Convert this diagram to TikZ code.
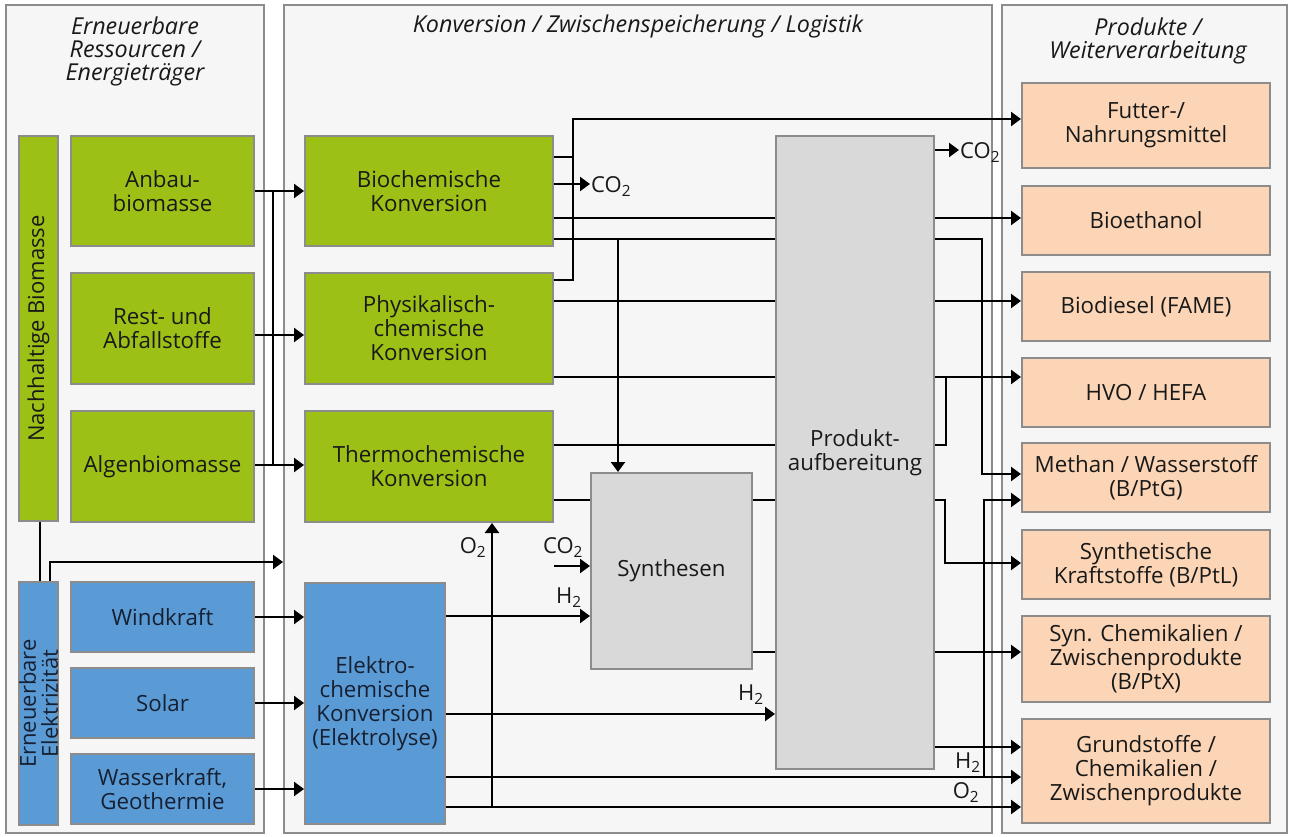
\documentclass[tikz,border=0pt]{standalone}
\usepackage{fontspec}
\setmainfont{Open Sans}
\usetikzlibrary{arrows.meta}
\definecolor{pbg}{RGB}{246,246,246}
\definecolor{pborder}{RGB}{140,140,140}
\definecolor{grn}{RGB}{156,192,22}
\definecolor{blu}{RGB}{91,155,213}
\definecolor{peach}{RGB}{251,213,181}
\definecolor{gry}{RGB}{217,217,217}
\definecolor{txt}{RGB}{25,25,25}
\definecolor{navy}{RGB}{22,32,50}
\begin{document}
\begin{tikzpicture}[x=1pt,y=-1pt,
  panel/.style={draw=pborder, fill=pbg, line width=2pt, inner sep=0pt},
  box/.style={draw=pborder, line width=2pt, inner sep=2pt, align=center, text=txt,
    font=\fontsize{22.3}{24}\selectfont},
  gbox/.style={box, fill=grn},
  bbox/.style={box, fill=blu, text=navy},
  ybox/.style={box, fill=gry},
  pbox/.style={box, fill=peach},
  title/.style={align=center, text=txt, font=\fontsize{23.3}{23}\selectfont\itshape},
  lbl/.style={text=txt, inner sep=1pt, font=\fontsize{22}{23}\selectfont},
  line/.style={draw=black, line width=2.3pt},
  arr/.style={line, -{Triangle[length=10pt,width=14pt]}},
]
\useasboundingbox (0,0) rectangle (1291,837);
% panels
\node[panel, minimum width=258pt, minimum height=828pt] (lp) at (135,419) {};
\node[panel, minimum width=708pt, minimum height=828pt] (mp) at (638,419) {};
\node[panel, minimum width=285pt, minimum height=828pt] (rp) at (1144.5,419) {};
% titles
\node[title] (t1) at (135,51) {Erneuerbare\\Ressourcen /\\Energieträger};
\node[title] (t2) at (638,26) {Konversion / Zwischenspeicherung / Logistik};
\node[title] (t3) at (1148,40.5) {Produkte /\\Weiterverarbeitung};
% left column
\node[gbox, minimum width=39pt, minimum height=385pt] (nb) at (38.5,328.5) {};
\node[text=txt, rotate=90, font=\fontsize{22}{24}\selectfont] (nbt) at (38.5,328.5) {Nachhaltige Biomasse};
\node[gbox, minimum width=183pt, minimum height=110pt] (anbau) at (162.5,191) {Anbau-\\biomasse};
\node[gbox, minimum width=183pt, minimum height=111pt] (rest) at (162.5,328.5) {Rest- und\\Abfallstoffe};
\node[gbox, minimum width=183pt, minimum height=111pt] (algen) at (162.5,466.5) {Algenbiomasse};
\node[bbox, minimum width=39pt, minimum height=243pt] (ee) at (38.5,703.5) {};
\node[text=navy, rotate=90, align=center, font=\fontsize{22}{22}\selectfont] (eet) at (38.5,703.5) {Erneuerbare\\Elektrizität};
\node[bbox, minimum width=183pt, minimum height=70pt] (wind) at (162.5,617) {Windkraft};
\node[bbox, minimum width=183pt, minimum height=70pt] (solar) at (162.5,703) {Solar};
\node[bbox, minimum width=183pt, minimum height=70pt] (wasser) at (162.5,789) {Wasserkraft,\\Geothermie};
% middle column
\node[gbox, minimum width=248pt, minimum height=110pt] (bio) at (429,191) {Biochemische\\Konversion};
\node[gbox, minimum width=248pt, minimum height=111pt] (phys) at (429,328.5) {Physikalisch-\\chemische\\Konversion};
\node[gbox, minimum width=248pt, minimum height=111pt] (thermo) at (429,466.5) {Thermochemische\\Konversion};
\node[bbox, minimum width=140pt, minimum height=241pt] (elektro) at (375,703.5) {Elektro-\\chemische\\Konversion\\(Elektrolyse)};
\node[ybox, minimum width=161pt, minimum height=196pt] (synth) at (671.5,571) {Synthesen};
\node[ybox, minimum width=158pt, minimum height=633pt] (prod) at (855,452.5) {Produkt-\\aufbereitung};
% right column
\node[pbox, minimum width=248pt, minimum height=85pt] (futter) at (1146,125.5) {Futter-/\\Nahrungsmittel};
\node[pbox, minimum width=248pt, minimum height=69pt] (ethanol) at (1146,220.5) {Bioethanol};
\node[pbox, minimum width=248pt, minimum height=69pt] (diesel) at (1146,306.5) {Biodiesel (FAME)};
\node[pbox, minimum width=248pt, minimum height=69pt] (hvo) at (1146,392.5) {HVO / HEFA};
\node[pbox, minimum width=248pt, minimum height=69pt] (methan) at (1146,477.5) {Methan / Wasserstoff\\(B/PtG)};
\node[pbox, minimum width=248pt, minimum height=69pt] (synkraft) at (1146,564.5) {Synthetische\\Kraftstoffe (B/PtL)};
\node[pbox, minimum width=248pt, minimum height=86pt] (synchem) at (1146,659) {Syn. Chemikalien /\\Zwischenprodukte\\(B/PtX)};
\node[pbox, minimum width=248pt, minimum height=104pt] (grund) at (1146,771) {Grundstoffe /\\Chemikalien /\\Zwischenprodukte};
% labels
\node[lbl, anchor=west] (co2a) at (590,187) {CO\textsubscript{2}};
\node[lbl, anchor=west] (co2b) at (959,153) {CO\textsubscript{2}};
\node[lbl] (co2c) at (563,548) {CO\textsubscript{2}};
\node[lbl] (h2a) at (569,598) {H\textsubscript{2}};
\node[lbl] (h2b) at (751,695) {H\textsubscript{2}};
\node[lbl] (h2c) at (968,763) {H\textsubscript{2}};
\node[lbl] (o2a) at (473,548) {O\textsubscript{2}};
\node[lbl] (o2b) at (966,793) {O\textsubscript{2}};
\coordinate (co2in) at (554,566);
% left connectors
\draw[arr] (anbau.east) -- (bio.west);
\draw[arr] (rest.east |- 0,335) -- (phys.west |- 0,335);
\draw[arr] (algen.east |- 0,465) -- (thermo.west |- 0,465);
\draw[line] (273,191) -- (273,465);
\draw[line] (40,0 |- nb.south) -- (40,0 |- ee.north);
\draw[arr] (50,0 |- ee.north) -- (50,562) -- (mp.west |- 0,562);
\draw[arr] (wind.east) -- (elektro.west |- wind.east);
\draw[arr] (solar.east) -- (elektro.west |- solar.east);
\draw[arr] (wasser.east) -- (elektro.west |- wasser.east);
% biochemische
\draw[line] (bio.east |- 0,157) -- (573,157);
\draw[arr] (phys.east |- 0,280) -- (573,280) -- (573,119) -- (futter.west |- 0,119);
\draw[arr] (bio.east |- 0,184) -- (co2a.west |- 0,184);
\draw[line] (bio.east |- 0,218) -- (prod.west |- 0,218);
\draw[arr] (prod.east |- 0,218) -- (ethanol.west |- 0,218);
\draw[line] (bio.east |- 0,239) -- (prod.west |- 0,239);
\draw[arr] (618,239) -- (618,0 |- synth.north);
\draw[arr] (prod.east |- 0,239) -- (982,239) -- (982,474) -- (methan.west |- 0,474);
\draw[arr] (prod.east |- 0,150) -- (co2b.west |- 0,150);
% physikalisch
\draw[line] (phys.east |- 0,301) -- (prod.west |- 0,301);
\draw[arr] (prod.east |- 0,301) -- (diesel.west |- 0,301);
\draw[line] (phys.east |- 0,377) -- (prod.west |- 0,377);
\draw[arr] (prod.east |- 0,377) -- (hvo.west |- 0,377);
% thermochemisch
\draw[line] (thermo.east |- 0,445) -- (prod.west |- 0,445);
\draw[line] (prod.east |- 0,445) -- (946,445) -- (946,377);
\draw[line] (thermo.east |- 0,500) -- (synth.west |- 0,500);
\draw[line] (synth.east |- 0,500) -- (prod.west |- 0,500);
\draw[arr] (prod.east |- 0,500) -- (945,500) -- (945,563) -- (synkraft.west |- 0,563);
% synthesen
\draw[line] (synth.east |- 0,652) -- (prod.west |- 0,652);
\draw[arr] (prod.east |- 0,652) -- (synchem.west |- 0,652);
\draw[arr] (co2in) -- (synth.west |- co2in);
% elektrochemisch
\draw[arr] (elektro.east |- 0,616) -- (synth.west |- 0,616);
\draw[arr] (elektro.east |- 0,714) -- (prod.west |- 0,714);
\draw[arr] (prod.east |- 0,747) -- (grund.west |- 0,747);
\draw[arr] (elektro.east |- 0,777) -- (grund.west |- 0,777);
\draw[arr] (984,777) -- (984,500) -- (methan.west |- 0,500);
\draw[arr] (elektro.east |- 0,807) -- (grund.west |- 0,807);
\draw[arr] (492,807) -- (492,0 |- thermo.south);
\end{tikzpicture}
\end{document}
